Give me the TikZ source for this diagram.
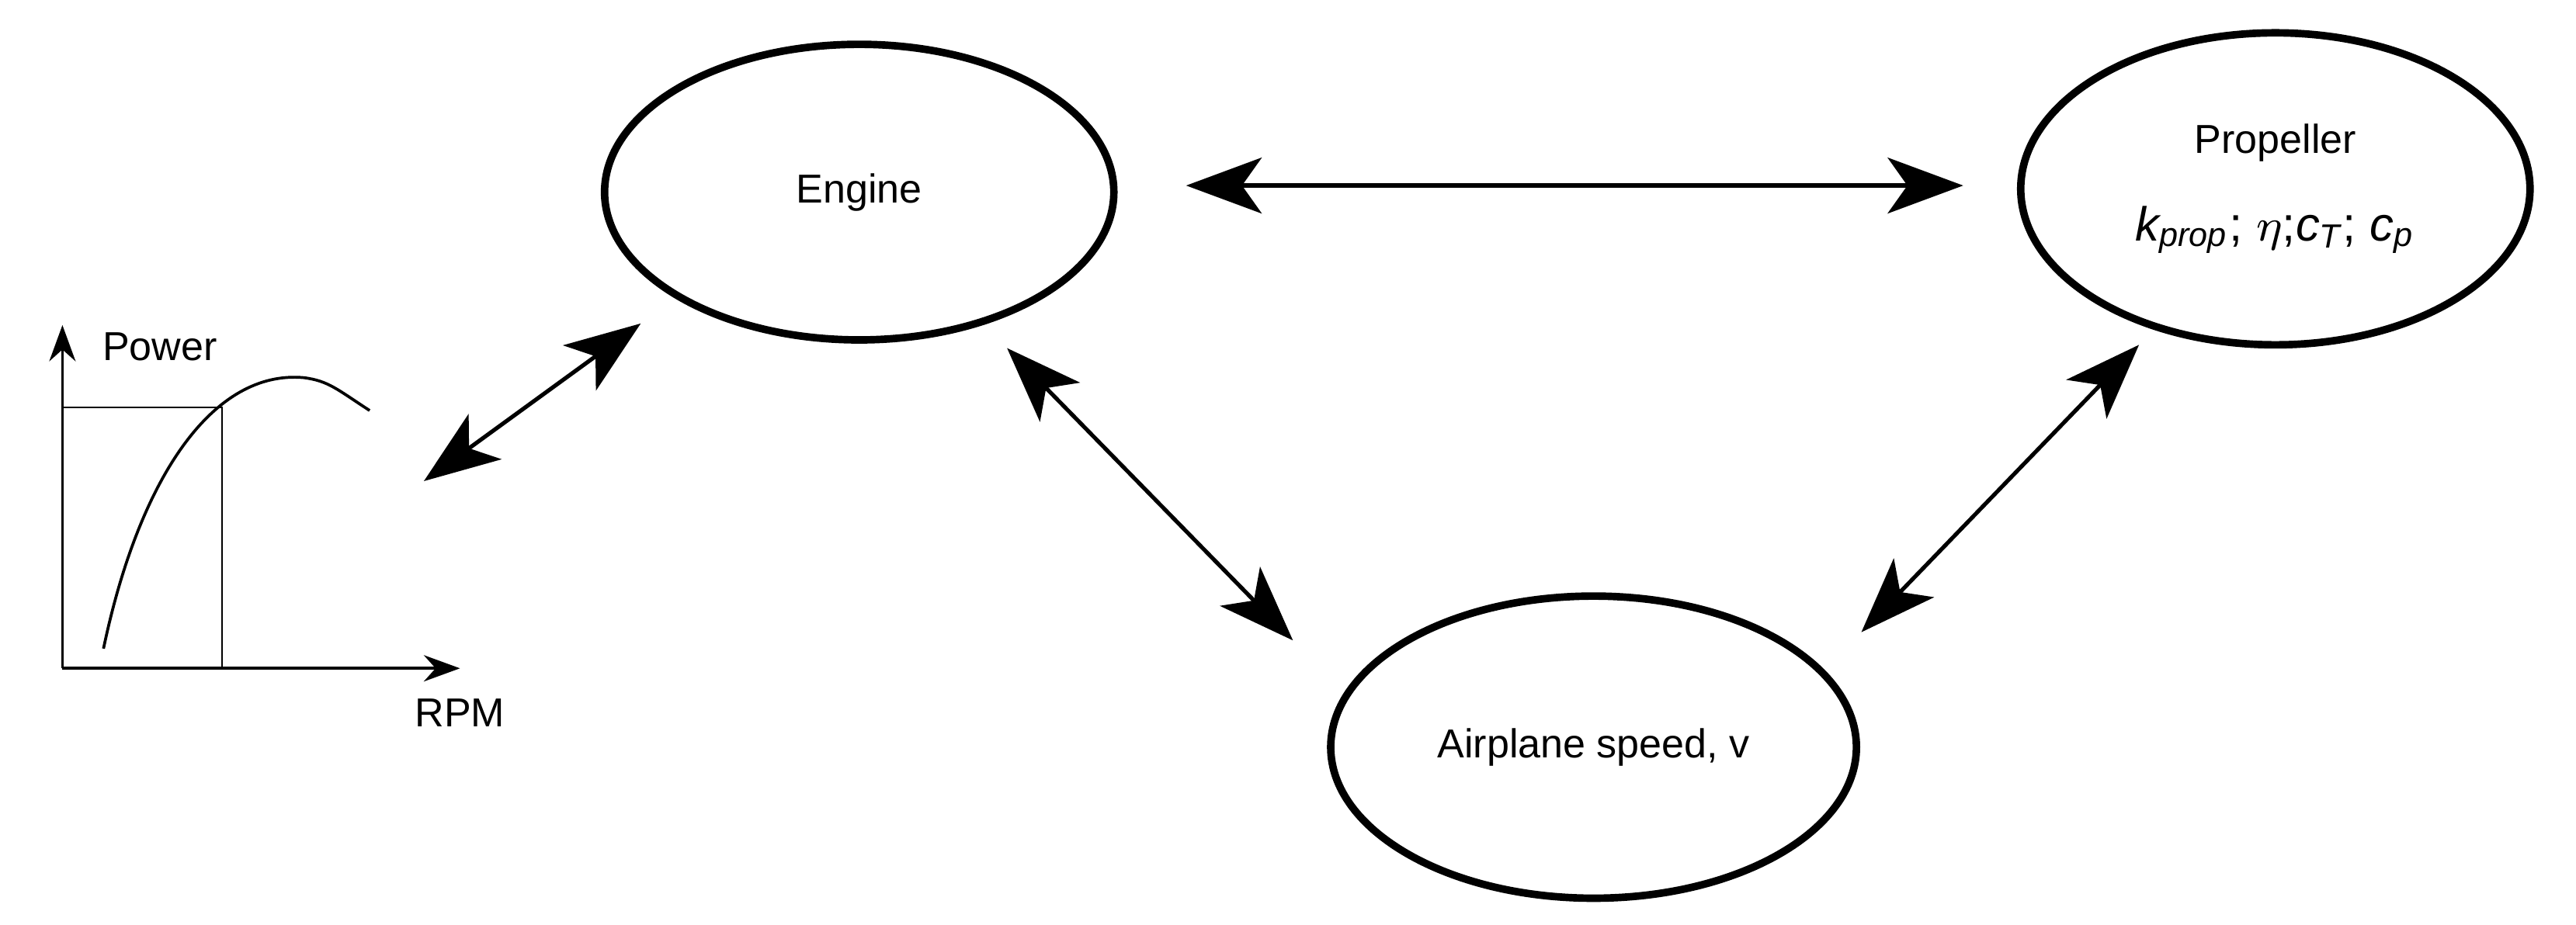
\documentclass[tikz,border=0pt]{standalone}
\usepackage{fontspec}
\setmainfont{Liberation Sans}
\usetikzlibrary{arrows.meta,shapes.geometric}
\begin{document}
\begin{tikzpicture}[x=0.1mm, y=-0.1mm,
    bigarrow/.style={{Stealth[length=4.6mm,width=3.4mm,inset=1.2mm]}-{Stealth[length=4.6mm,width=3.4mm,inset=1.2mm]}, line width=0.7pt},
    block/.style={draw, ellipse, line width=1.3pt, inner sep=0pt, align=center},
    every node/.style={font=\fontsize{7}{8}\selectfont}]
    \useasboundingbox (0,0) rectangle (1568,563);

    % Blocks
    \node[block, minimum width=31mm, minimum height=18mm] at (523,117) (engine) {Engine};
    \node[block, minimum width=31mm, minimum height=19mm] at (1385,115) (prop)
        {Propeller\\[2.5mm] \fontsize{8.3}{9}\selectfont$\mathit{k_{prop}}$; $\eta$;$\mathit{c_T}$; $\mathit{c_p}$};
    \node[block, minimum width=32mm, minimum height=18.4mm] at (970,455) (speed) {Airplane speed, v};

    % Arrow ends
    \coordinate (e1) at (722,113);   \coordinate (p1) at (1195,113);
    \coordinate (e2) at (390,197);   \coordinate (g1) at (258,293);
    \coordinate (e3) at (613,212);   \coordinate (s1) at (787,390);
    \coordinate (p2) at (1302,210);  \coordinate (s2) at (1133,385);

    % Connections
    \draw[bigarrow] (e1) -- (p1);
    \draw[bigarrow] (e2) -- (g1);
    \draw[bigarrow] (e3) -- (s1);
    \draw[bigarrow] (p2) -- (s2);

    % Power curve
    \coordinate (o) at (38,407);
    \coordinate (ytop) at (38,198);
    \coordinate (xend) at (280,407);
    \draw[-{Stealth[length=2.2mm,width=1.6mm]}, line width=0.5pt] (o) -- (ytop);
    \draw[-{Stealth[length=2.2mm,width=1.6mm]}, line width=0.5pt] (o) -- (xend);
    \node[anchor=west] at (50,211) (pw) {Power};
    \node at (280,434) (rpm) {RPM};
    \draw[line width=0.5pt] (63,395) .. controls (85,290) and (130,225) .. (185,230)
        .. controls (200,232) and (205,237) .. (225,250);
    \draw[line width=0.3pt] (38,248) -- (135,248) -- (135,407);
\end{tikzpicture}
\end{document}
